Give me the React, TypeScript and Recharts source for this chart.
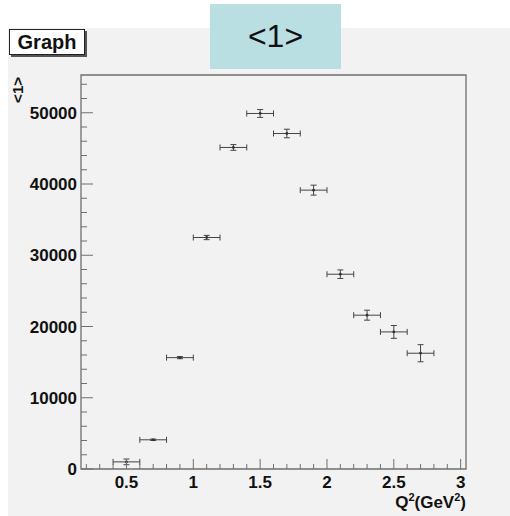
import React from 'react';
import { ScatterChart, Scatter, XAxis, YAxis, ErrorBar, ReferenceArea } from 'recharts';

const q2 = [0.5, 0.7, 0.9, 1.1, 1.3, 1.5, 1.7, 1.9, 2.1, 2.3, 2.5, 2.7];
const avg = [1000, 4100, 15630, 32490, 45130, 49900, 47090, 39140, 27340, 21590, 19240, 16250];
const q2Err = [0.1, 0.1, 0.1, 0.1, 0.1, 0.1, 0.1, 0.1, 0.1, 0.1, 0.1, 0.1];
const avgErr = [400, 100, 150, 300, 400, 550, 600, 700, 600, 700, 900, 1200];

const xTicks = [0.2, 0.3, 0.4, 0.5, 0.6, 0.7, 0.8, 0.9, 1, 1.1, 1.2, 1.3, 1.4, 1.5, 1.6, 1.7, 1.8, 1.9, 2,
  2.1, 2.2, 2.3, 2.4, 2.5, 2.6, 2.7, 2.8, 2.9, 3];
const xLabels = [0.5, 1, 1.5, 2, 2.5, 3];
const yTicks = [0, 2000, 4000, 6000, 8000, 10000, 12000, 14000, 16000, 18000, 20000, 22000, 24000, 26000,
  28000, 30000, 32000, 34000, 36000, 38000, 40000, 42000, 44000, 46000, 48000, 50000, 52000, 54000];
const yLabels = [0, 10000, 20000, 30000, 40000, 50000];

const data = q2.map((x, i) => ({ x, y: avg[i], ex: q2Err[i], ey: avgErr[i] }));

const FONT = '"Liberation Sans", Arial, Helvetica, sans-serif';
const AXIS = '#6f6f6f';

const XTick = (props: any) => {
  const { x, y, payload } = props;
  const major = xLabels.includes(payload.value);
  return (
    <g>
      <line x1={x} x2={x} y1={y} y2={y - (major ? 10 : 5)} stroke={AXIS} strokeWidth={1} />
      {major && (
        <text x={x} y={y + 19} textAnchor="middle" fontFamily={FONT} fontWeight="bold" fontSize={17} fill="#111">
          {payload.value}
        </text>
      )}
    </g>
  );
};

const YTick = (props: any) => {
  const { x, y, payload } = props;
  const major = yLabels.includes(payload.value);
  return (
    <g>
      <line x1={x} x2={x + (major ? 12 : 6)} y1={y} y2={y} stroke={AXIS} strokeWidth={1} />
      {major && (
        <text x={x - 4} y={y + 6} textAnchor="end" fontFamily={FONT} fontWeight="bold" fontSize={17} fill="#111">
          {payload.value}
        </text>
      )}
    </g>
  );
};

const Dot = (props: any) => <circle cx={props.cx} cy={props.cy} r={1.4} fill="#333" />;

export default function App() {
  return (
    <div style={{ position: 'fixed', left: 0, top: 0, width: 510, height: 516, background: '#fff', overflow: 'hidden' }}>
      <div style={{ position: 'absolute', left: 8, top: 28, width: 502, height: 488, background: '#f2f2f2' }} />
      <div style={{ position: 'absolute', left: 0, top: 0 }}>
        <ScatterChart width={510} height={516} margin={{ top: 75, right: 44, bottom: 0, left: 0 }}>
          <XAxis
            type="number"
            dataKey="x"
            domain={[0.16, 3.04]}
            ticks={xTicks}
            interval={0}
            allowDataOverflow
            height={47}
            axisLine={false}
            tickLine={false}
            tickSize={0}
            tickMargin={0}
            tick={<XTick />}
          />
          <YAxis
            type="number"
            dataKey="y"
            domain={[0, 55300]}
            ticks={yTicks}
            interval={0}
            allowDataOverflow
            width={81}
            axisLine={false}
            tickLine={false}
            tickSize={0}
            tickMargin={0}
            tick={<YTick />}
          />
          <ReferenceArea x1={0.16} x2={3.04} y1={0} y2={55300} fill="none" stroke={AXIS} strokeWidth={1.3} ifOverflow="visible" />
          <Scatter data={data} shape={<Dot />} isAnimationActive={false}>
            <ErrorBar dataKey="ex" direction="x" width={3} stroke="#444" strokeWidth={1} />
            <ErrorBar dataKey="ey" direction="y" width={3} stroke="#444" strokeWidth={1} />
          </Scatter>
        </ScatterChart>
      </div>
      <svg style={{ position: 'absolute', left: 0, top: 0 }} width={510} height={516}>
        <text x={23} y={77} transform="rotate(-90 23 77)" textAnchor="end" fontFamily={FONT} fontWeight="bold" fontSize={15} fill="#111">
          {'<1>'}
        </text>
        <text x={466} y={508} textAnchor="end" fontFamily={FONT} fontWeight="bold" fontSize={17} fill="#111">
          Q<tspan fontSize={11} dy={-7}>2</tspan>
          <tspan dy={7}>(GeV</tspan>
          <tspan fontSize={11} dy={-7}>2</tspan>
          <tspan dy={7}>)</tspan>
        </text>
      </svg>
      <div
        style={{
          position: 'absolute', left: 210, top: 4, width: 131, height: 65, background: '#b9dfe2',
          display: 'flex', alignItems: 'center', justifyContent: 'center',
          fontFamily: FONT, fontSize: 32, color: '#111'
        }}
      >
        {'<1>'}
      </div>
      <div
        style={{
          position: 'absolute', left: 9, top: 29, width: 74, height: 24, background: '#fff',
          border: '1px solid #222', boxShadow: '2px 2px 0 #555',
          display: 'flex', alignItems: 'center', justifyContent: 'center',
          fontFamily: FONT, fontWeight: 'bold', fontSize: 20, color: '#111'
        }}
      >
        Graph
      </div>
    </div>
  );
}
